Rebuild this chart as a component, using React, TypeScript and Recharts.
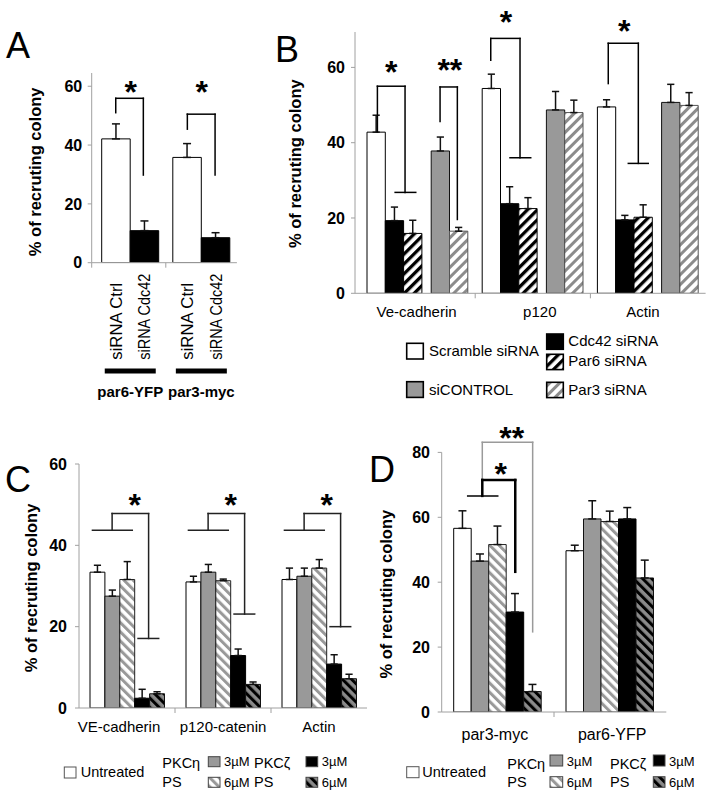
import React from 'react';
import { BarChart, Bar, XAxis, YAxis, ErrorBar, ReferenceLine, ReferenceDot, LabelList } from 'recharts';

const FONT = '"Liberation Sans", Arial, Helvetica, sans-serif';
const AXIS = '#a0a0a0';
const yLabelText = '% of recruting colony';

// ---------------- Panel A ----------------
const aCategories = ['par6-YFP', 'par3-myc'];
const aSeries = ['siRNA Ctrl', 'siRNA Cdc42'];
const aCtrl = [42.1, 35.8];
const aCtrlErr = [5.1, 4.7];
const aCdc42 = [10.9, 8.5];
const aCdc42Err = [3.3, 1.7];
const aTicks = [0, 20, 40, 60];
const aBrackets = [
  [[0.296, 51.0], [0.296, 55.9], [0.684, 55.9], [0.684, 29.8]],
  [[1.303, 45.4], [1.303, 50.5], [1.693, 50.5], [1.693, 29.8]],
];
const aStars = [
  { x: 0.507, y: 60.4, text: '*' },
  { x: 1.506, y: 60.4, text: '*' },
];

// ---------------- Panel B ----------------
const bCategories = ['Ve-cadherin', 'p120', 'Actin'];
const bSeries = ['Scramble siRNA', 'Cdc42 siRNA', 'Par6 siRNA', 'siCONTROL', 'Par3 siRNA'];
const bScramble = [42.8, 54.4, 49.5];
const bScrambleErr = [4.5, 3.8, 1.9];
const bCdc42 = [19.3, 23.8, 19.5];
const bCdc42Err = [3.6, 4.5, 1.2];
const bPar6 = [15.9, 22.5, 20.2];
const bPar6Err = [3.5, 2.9, 3.3];
const bSiControl = [37.8, 48.7, 50.7];
const bSiControlErr = [3.7, 4.9, 4.8];
const bPar3 = [16.5, 48.0, 49.9];
const bPar3Err = [1.0, 3.3, 3.4];
const bTicks = [0, 20, 40, 60];
const bBrackets = [
  [[0.151, 42.9], [0.151, 55.0], [0.391, 55.0], [0.391, 26.8]],
  [[0.305, 26.8], [0.484, 26.8]],
  [[0.695, 45.6], [0.695, 54.8], [0.845, 54.8], [0.845, 19.6]],
  [[1.135, 61.9], [1.135, 67.7], [1.389, 67.7], [1.389, 36.0]],
  [[1.302, 36.0], [1.482, 36.0]],
  [[2.155, 55.7], [2.155, 66.4], [2.416, 66.4], [2.416, 34.5]],
  [[2.329, 34.5], [2.502, 34.5]],
];
const bStars = [
  { x: 0.27, y: 60.6, text: '*' },
  { x: 0.78, y: 61.1, text: '**' },
  { x: 1.268, y: 73.9, text: '*' },
  { x: 2.294, y: 71.7, text: '*' },
];

// ---------------- Panel C ----------------
const cCategories = ['VE-cadherin', 'p120-catenin', 'Actin'];
const cUntreated = [33.4, 31.0, 31.6];
const cUntreatedErr = [1.7, 1.4, 2.8];
const cEta3 = [27.5, 33.4, 32.4];
const cEta3Err = [1.5, 1.9, 2.0];
const cEta6 = [31.6, 31.3, 34.4];
const cEta6Err = [4.4, 0.4, 2.1];
const cZeta3 = [2.4, 12.9, 10.8];
const cZeta3Err = [2.2, 1.6, 2.3];
const cZeta6 = [3.5, 5.8, 7.2];
const cZeta6Err = [0.5, 0.6, 1.1];
const cTicks = [0, 20, 40, 60];
const cBrackets = [
  [[0.14, 43.7], [0.555, 43.7]],
  [[0.345, 43.7], [0.345, 47.8], [0.725, 47.8], [0.725, 17.1]],
  [[0.615, 17.1], [0.83, 17.1]],
  [[1.14, 43.7], [1.555, 43.7]],
  [[1.345, 43.7], [1.345, 47.8], [1.725, 47.8], [1.725, 23.1]],
  [[1.615, 23.1], [1.83, 23.1]],
  [[2.14, 43.7], [2.555, 43.7]],
  [[2.345, 43.7], [2.345, 47.8], [2.725, 47.8], [2.725, 20.0]],
  [[2.615, 20.0], [2.83, 20.0]],
];
const cStars = [
  { x: 0.58, y: 51.6, text: '*' },
  { x: 1.58, y: 51.6, text: '*' },
  { x: 2.58, y: 51.6, text: '*' },
];

// ---------------- Panel D ----------------
const dCategories = ['par3-myc', 'par6-YFP'];
const dUntreated = [56.6, 49.7];
const dUntreatedErr = [5.4, 1.7];
const dEta3 = [46.5, 59.5];
const dEta3Err = [2.2, 5.6];
const dEta6 = [51.6, 58.7];
const dEta6Err = [5.7, 3.2];
const dZeta3 = [30.8, 59.5];
const dZeta3Err = [5.7, 3.5];
const dZeta6 = [6.3, 41.3];
const dZeta6Err = [2.2, 5.5];
const dTicks = [0, 20, 40, 60, 80];
const dGroupLine = [[[0.2315, 66.6], [0.499, 66.6]]];
const dBlackBracket = [[[0.3615, 66.6], [0.3615, 71.5], [0.655, 71.5], [0.655, 43.2]]];
const dGreyBracket = [[[0.3615, 71.5], [0.3615, 83.1], [0.81, 83.1], [0.81, 24.7]]];
const dStars = [
  { x: 0.525, y: 75.6, text: '*' },
  { x: 0.623, y: 86.6, text: '**' },
];

// legend texts for C / D
const cdTreatments = ['Untreated', 'PKCη', 'PKCζ'];
const cdSuffix = 'PS';
const cdDoses = ['3µM', '6µM'];

// ---------------- styles ----------------
const FILL = {
  white: { fill: '#ffffff', stroke: '#000' },
  black: { fill: '#000000', stroke: '#000' },
  grey: { fill: '#999999', stroke: '#111' },
  bwHatch: { fill: 'url(#hatchBW)', stroke: '#000' },
  greyHatch: { fill: 'url(#hatchGreyFwd)', stroke: '#555' },
  greyBack: { fill: 'url(#hatchGreyBack)', stroke: '#222' },
  darkBack: { fill: 'url(#hatchDarkBack)', stroke: '#111' },
};

type S = { key: string; name: string; values: number[]; errs: number[]; style: { fill: string; stroke: string } };

const makeRows = (cats: string[], series: S[]) =>
  cats.map((name, i) => {
    const row: any = { name };
    series.forEach((s) => {
      row[s.key] = s.values[i];
      row[s.key + 'Err'] = [0, s.errs[i]];
    });
    return row;
  });

const aSeriesList: S[] = [
  { key: 'ctrl', name: aSeries[0], values: aCtrl, errs: aCtrlErr, style: FILL.white },
  { key: 'cdc', name: aSeries[1], values: aCdc42, errs: aCdc42Err, style: FILL.black },
];
const bSeriesList: S[] = [
  { key: 'scr', name: bSeries[0], values: bScramble, errs: bScrambleErr, style: FILL.white },
  { key: 'cdc', name: bSeries[1], values: bCdc42, errs: bCdc42Err, style: FILL.black },
  { key: 'par6', name: bSeries[2], values: bPar6, errs: bPar6Err, style: FILL.bwHatch },
  { key: 'sic', name: bSeries[3], values: bSiControl, errs: bSiControlErr, style: FILL.grey },
  { key: 'par3', name: bSeries[4], values: bPar3, errs: bPar3Err, style: FILL.greyHatch },
];
const cSeriesList: S[] = [
  { key: 'un', name: 'Untreated', values: cUntreated, errs: cUntreatedErr, style: FILL.white },
  { key: 'e3', name: 'PKCη 3µM', values: cEta3, errs: cEta3Err, style: FILL.grey },
  { key: 'e6', name: 'PKCη 6µM', values: cEta6, errs: cEta6Err, style: FILL.greyBack },
  { key: 'z3', name: 'PKCζ 3µM', values: cZeta3, errs: cZeta3Err, style: FILL.black },
  { key: 'z6', name: 'PKCζ 6µM', values: cZeta6, errs: cZeta6Err, style: FILL.darkBack },
];
const dSeriesList: S[] = [
  { key: 'un', name: 'Untreated', values: dUntreated, errs: dUntreatedErr, style: FILL.white },
  { key: 'e3', name: 'PKCη 3µM', values: dEta3, errs: dEta3Err, style: FILL.grey },
  { key: 'e6', name: 'PKCη 6µM', values: dEta6, errs: dEta6Err, style: FILL.greyBack },
  { key: 'z3', name: 'PKCζ 3µM', values: dZeta3, errs: dZeta3Err, style: FILL.black },
  { key: 'z6', name: 'PKCζ 6µM', values: dZeta6, errs: dZeta6Err, style: FILL.darkBack },
];

const aData = makeRows(aCategories, aSeriesList);
const bData = makeRows(bCategories, bSeriesList);
const cData = makeRows(cCategories, cSeriesList);
const dData = makeRows(dCategories, dSeriesList);

// The hidden numeric annotation axis spans [0, n-1] over the full category range,
// so convert "category units" (0..n) into that axis.
const toAnn = (u: number, n: number) => (u * (n - 1)) / n;

// ---------------- helpers ----------------
const renderBar = (s: S, size: number, capW: number, children?: any) => (
  <Bar
    key={s.key}
    dataKey={s.key}
    name={s.name}
    barSize={size}
    fill={s.style.fill}
    stroke={s.style.stroke}
    strokeWidth={1}
    isAnimationActive={false}
  >
    <ErrorBar dataKey={s.key + 'Err'} width={capW} strokeWidth={1.5} stroke="#111" direction="y" />
    {children}
  </Bar>
);

const renderLines = (lines: number[][][], n: number, stroke: string, w: number, kp: string) =>
  lines.map((pts, i) =>
    pts.slice(1).map((pt, j) => (
      <ReferenceLine
        key={`${kp}-${i}-${j}`}
        xAxisId="ann"
        segment={[
          { x: toAnn(pts[j][0], n), y: pts[j][1] },
          { x: toAnn(pt[0], n), y: pt[1] },
        ]}
        stroke={stroke}
        strokeWidth={w}
        strokeLinecap="square"
        ifOverflow="visible"
      />
    ))
  );

const renderStars = (stars: { x: number; y: number; text: string }[], n: number, size: number, kp: string) =>
  stars.map((s, i) => (
    <ReferenceDot
      key={`${kp}-${i}`}
      xAxisId="ann"
      x={toAnn(s.x, n)}
      y={s.y}
      r={0}
      ifOverflow="visible"
      shape={(p: any) => (
        <text
          x={p.cx}
          y={p.cy}
          dy={size * 0.57}
          textAnchor="middle"
          fontSize={size}
          fontWeight="bold"
          fontFamily={FONT}
          fill="#000"
        >
          {s.text}
        </text>
      )}
    />
  ));

const yLabel = (cxOff: number, dy: number) => (p: any) => {
  const vb = p.viewBox || { x: 0, y: 0, width: 0, height: 0 };
  const cx = vb.x + cxOff;
  const cy = vb.y + vb.height / 2 + dy;
  return (
    <text
      x={cx}
      y={cy}
      transform={`rotate(-90 ${cx} ${cy})`}
      textAnchor="middle"
      dominantBaseline="central"
      fontSize={16.5}
      fontWeight="bold"
      fontFamily={FONT}
      fill="#000"
    >
      {yLabelText}
    </text>
  );
};

const catTick = (n: number, half: number, baseline: number, fontSize: number, dxs: number[] = []) => (p: any) => {
  const { x, y, payload, index } = p;
  return (
    <g>
      <text
        x={x + (dxs[index] || 0)}
        y={y + baseline}
        textAnchor="middle"
        fontSize={fontSize}
        fontFamily={FONT}
        fill="#000"
      >
        {payload.value}
      </text>
      {index < n - 1 && <line x1={x + half} x2={x + half} y1={y} y2={y + 5} stroke={AXIS} />}
    </g>
  );
};

const aTick = (half: number) => (p: any) => {
  const { x, y, payload, index } = p;
  return (
    <g>
      <line x1={x - 25.5} x2={x + 25.5} y1={y + 108.3} y2={y + 108.3} stroke="#000" strokeWidth={5} />
      <text x={x} y={y + 134.3} textAnchor="middle" fontSize={15} fontWeight="bold" fontFamily={FONT} fill="#000">
        {payload.value}
      </text>
      {index === 0 && <line x1={x - half - 3} x2={x - half - 3} y1={y} y2={y + 5} stroke={AXIS} />}
      {index < aCategories.length - 1 && <line x1={x + half} x2={x + half} y1={y} y2={y + 5} stroke={AXIS} />}
    </g>
  );
};

const rotLabel = (text: string, len: number) => (p: any) => {
  const vb = p.viewBox && p.viewBox.width !== undefined ? p.viewBox : p;
  const x = vb.x + vb.width / 2 + 6;
  const y = vb.y + vb.height + 97;
  return (
    <text
      x={x}
      y={y}
      transform={`rotate(-90 ${x} ${y})`}
      fontSize={17}
      fontFamily={FONT}
      fill="#000"
      textLength={len}
      lengthAdjust="spacingAndGlyphs"
    >
      {text}
    </text>
  );
};
const aLabelLengths = [77, 86];

const yTickStyle = { fontSize: 16, fontWeight: 700, fill: '#000', fontFamily: FONT };

// ---------------- Legends (overlay) ----------------
const bLegendLayout = [
  { box: [406.7, 343.3, 16.6, 15.7], text: [429, 356] },
  { box: [546.7, 334, 16.6, 15.3], text: [568.3, 346] },
  { box: [546.7, 354.3, 16.6, 15.3], text: [568.3, 366] },
  { box: [406.7, 381.7, 16.6, 15.7], text: [429, 395] },
  { box: [546.7, 382.3, 16.6, 15.3], text: [568.3, 395] },
];

const cdLegend = (L: any, series: S[]) => (
  <g fontFamily={FONT} fill="#000">
    <rect x={L.un[0]} y={L.un[1]} width={L.un[2]} height={L.un[3]} fill={series[0].style.fill} stroke="#555" />
    <text x={L.unT[0]} y={L.unT[1]} fontSize={14.5}>{cdTreatments[0]}</text>
    <text x={L.eta[0]} y={L.eta[1]} fontSize={14.5}>{cdTreatments[1]}</text>
    <text x={L.eta[0]} y={L.ps} fontSize={14.5}>{cdSuffix}</text>
    <text x={L.zeta[0]} y={L.zeta[1]} fontSize={14.5}>{cdTreatments[2]}</text>
    <text x={L.zeta[0]} y={L.ps} fontSize={14.5}>{cdSuffix}</text>
    {[1, 2, 3, 4].map((k) => {
      const b = L.boxes[k - 1];
      return (
        <g key={k}>
          <rect x={b[0]} y={b[1]} width={b[2]} height={b[3]} fill={series[k].style.fill} stroke="#444" />
          <text x={b[4]} y={b[5]} fontSize={13}>{cdDoses[(k - 1) % 2]}</text>
        </g>
      );
    })}
  </g>
);

const cLegendLayout = {
  un: [64.3, 767, 11.7, 11],
  unT: [80.7, 777.3],
  eta: [162.3, 768.3],
  zeta: [254, 768.3],
  ps: 786.7,
  boxes: [
    [208.3, 756.7, 11.7, 10, 224, 766],
    [208.3, 777.3, 11.7, 10, 224, 786.7],
    [306, 756.7, 11.7, 10, 321.7, 766],
    [306, 777.3, 11.7, 10, 321.7, 786.7],
  ],
};
const dLegendLayout = {
  un: [406.7, 766.7, 12.3, 11],
  unT: [422.3, 777.3],
  eta: [507.3, 769],
  zeta: [610, 769],
  ps: 786.7,
  boxes: [
    [550, 755, 12.7, 11, 566.7, 766],
    [550, 776.7, 12.7, 10.6, 566.7, 786.7],
    [653.3, 755, 11.7, 11, 669, 766],
    [653.3, 776.7, 11.7, 10.6, 669, 786.7],
  ],
};

const abs = (left: number, top: number): React.CSSProperties => ({ position: 'absolute', left, top });

export default function App() {
  const A = { w: 245, h: 410, top: 73, right: 8.1, yw: 91.7, xh: 147.3, pad: 3 };
  const aHalf = (A.w - A.right - A.yw - A.pad) / aCategories.length / 2;
  const B = { w: 467, h: 410, top: 32, right: 1.4, yw: 115, xh: 116.7, pad: 5 };
  const bHalf = (B.w - B.right - B.yw - B.pad) / bCategories.length / 2;
  const C = { w: 375, h: 355, top: 24, right: 8, yw: 79, xh: 87 };
  const cHalf = (C.w - C.right - C.yw) / cCategories.length / 2;
  const D = { w: 337, h: 395, top: 52.4, right: 40.7, yw: 71.7, xh: 83 };
  const dHalf = (D.w - D.right - D.yw) / dCategories.length / 2;
  const nA = aCategories.length;
  const nB = bCategories.length;
  const nC = cCategories.length;
  const nD = dCategories.length;

  return (
    <div style={{ position: 'absolute', left: 0, top: 0, width: 707, height: 795, background: '#fff', fontFamily: FONT }}>
      {/* Panel A */}
      <div style={abs(0, 0)}>
        <BarChart width={A.w} height={A.h} data={aData} margin={{ top: A.top, right: A.right, bottom: 0, left: 0 }} barGap={0}>
          <XAxis
            dataKey="name"
            height={A.xh}
            padding={{ left: A.pad, right: 0 }}
            axisLine={{ stroke: AXIS }}
            tickLine={false}
            tickSize={0}
            tickMargin={0}
            interval={0}
            tick={aTick(aHalf)}
          />
          <XAxis xAxisId="ann" type="number" domain={[0, nA - 1]} allowDataOverflow hide padding={{ left: A.pad, right: 0 }} />
          <YAxis
            domain={[0, 64.5]}
            ticks={aTicks}
            allowDataOverflow
            width={A.yw}
            axisLine={{ stroke: AXIS }}
            tickLine={{ stroke: AXIS }}
            tickSize={4}
            tickMargin={5.5}
            tick={yTickStyle}
            label={yLabel(35, 4)}
          />
          {aSeriesList.map((s, i) =>
            renderBar(s, 28.5, 4, <LabelList dataKey={s.key} content={rotLabel(s.name, aLabelLengths[i])} />)
          )}
          {renderLines(aBrackets, nA, '#000', 1.5, 'ab')}
          {renderStars(aStars, nA, 32, 'as')}
        </BarChart>
      </div>

      {/* Panel B */}
      <div style={abs(240, 0)}>
        <BarChart width={B.w} height={B.h} data={bData} margin={{ top: B.top, right: B.right, bottom: 0, left: 0 }} barGap={0}>
          <XAxis
            dataKey="name"
            height={B.xh}
            padding={{ left: B.pad, right: 0 }}
            axisLine={{ stroke: AXIS }}
            tickLine={false}
            tickSize={0}
            tickMargin={0}
            interval={0}
            tick={catTick(nB, bHalf, 23.2, 15, [-1, 7, -5])}
          />
          <XAxis xAxisId="ann" type="number" domain={[0, nB - 1]} allowDataOverflow hide padding={{ left: B.pad, right: 0 }} />
          <YAxis
            domain={[0, 69.4]}
            ticks={bTicks}
            allowDataOverflow
            width={B.yw}
            axisLine={{ stroke: AXIS }}
            tickLine={{ stroke: AXIS }}
            tickSize={4}
            tickMargin={6}
            tick={yTickStyle}
            label={yLabel(55, 1)}
          />
          {renderBar(bSeriesList[0], 18.3, 3.6)}
          {renderBar(bSeriesList[1], 18.3, 3.6)}
          {renderBar(bSeriesList[2], 18.3, 3.6)}
          <Bar key="gap" dataKey="gap" barSize={9.3} fill="none" stroke="none" legendType="none" isAnimationActive={false} />
          {renderBar(bSeriesList[3], 18.3, 3.6)}
          {renderBar(bSeriesList[4], 18.3, 3.6)}
          {renderLines(bBrackets, nB, '#000', 1.5, 'bb')}
          {renderStars(bStars, nB, 32, 'bs')}
        </BarChart>
      </div>

      {/* Panel C */}
      <div style={abs(0, 440)}>
        <BarChart width={C.w} height={C.h} data={cData} margin={{ top: C.top, right: C.right, bottom: 0, left: 0 }} barGap={0}>
          <XAxis
            dataKey="name"
            height={C.xh}
            axisLine={{ stroke: AXIS }}
            tickLine={false}
            tickSize={0}
            tickMargin={0}
            interval={0}
            tick={catTick(nC, cHalf, 23.7, 15, [-8, 0, 0])}
          />
          <XAxis xAxisId="ann" type="number" domain={[0, nC - 1]} allowDataOverflow hide />
          <YAxis
            domain={[0, 60]}
            ticks={cTicks}
            allowDataOverflow
            width={C.yw}
            axisLine={{ stroke: AXIS }}
            tickLine={{ stroke: AXIS }}
            tickSize={4}
            tickMargin={8}
            tick={yTickStyle}
            label={yLabel(31, 2)}
          />
          {cSeriesList.map((s) => renderBar(s, 14.9, 3.6))}
          {renderLines(cBrackets, nC, '#222', 1.5, 'cb')}
          {renderStars(cStars, nC, 32, 'cs')}
        </BarChart>
      </div>

      {/* Panel D */}
      <div style={abs(370, 400)}>
        <BarChart width={D.w} height={D.h} data={dData} margin={{ top: D.top, right: D.right, bottom: 0, left: 0 }} barGap={0}>
          <XAxis
            dataKey="name"
            height={D.xh}
            axisLine={{ stroke: AXIS }}
            tickLine={false}
            tickSize={0}
            tickMargin={0}
            interval={0}
            tick={catTick(nD, dHalf, 28, 16, [-3, 2])}
          />
          <XAxis xAxisId="ann" type="number" domain={[0, nD - 1]} allowDataOverflow hide />
          <YAxis
            domain={[0, 80]}
            ticks={dTicks}
            allowDataOverflow
            width={D.yw}
            axisLine={{ stroke: AXIS }}
            tickLine={{ stroke: AXIS }}
            tickSize={4}
            tickMargin={7.7}
            tick={yTickStyle}
            label={yLabel(16, 12)}
          />
          {dSeriesList.map((s) => renderBar(s, 17.5, 4))}
          {renderLines(dGreyBracket, nD, '#9a9a9a', 1.5, 'dg')}
          {renderLines(dGroupLine, nD, '#000', 1.5, 'dl')}
          {renderLines(dBlackBracket, nD, '#000', 2.5, 'db')}
          {renderStars(dStars, nD, 32, 'ds')}
        </BarChart>
      </div>

      {/* Overlay: patterns, panel letters, legends */}
      <svg width={707} height={795} style={{ position: 'absolute', left: 0, top: 0, pointerEvents: 'none' }}>
        <defs>
          <pattern id="hatchBW" patternUnits="userSpaceOnUse" width="7" height="7" patternTransform="rotate(45)">
            <rect width="7" height="7" fill="#fff" />
            <rect width="3.3" height="7" fill="#000" />
          </pattern>
          <pattern id="hatchGreyFwd" patternUnits="userSpaceOnUse" width="7" height="7" patternTransform="rotate(45)">
            <rect width="7" height="7" fill="#fff" />
            <rect width="3" height="7" fill="#8c8c8c" />
          </pattern>
          <pattern id="hatchGreyBack" patternUnits="userSpaceOnUse" width="6.5" height="6.5" patternTransform="rotate(-45)">
            <rect width="6.5" height="6.5" fill="#fff" />
            <rect width="3" height="6.5" fill="#999" />
          </pattern>
          <pattern id="hatchDarkBack" patternUnits="userSpaceOnUse" width="6.5" height="6.5" patternTransform="rotate(-45)">
            <rect width="6.5" height="6.5" fill="#8a8a8a" />
            <rect width="3" height="6.5" fill="#000" />
          </pattern>
        </defs>
        <g fontFamily={FONT} fontSize={36} fill="#000">
          <text x={6} y={58}>A</text>
          <text x={275} y={62}>B</text>
          <text x={5} y={492}>C</text>
          <text x={369} y={482}>D</text>
        </g>
        <g fontFamily={FONT} fill="#000">
          {bSeriesList.map((s, i) => {
            const L = bLegendLayout[i];
            return (
              <g key={s.key}>
                <rect x={L.box[0]} y={L.box[1]} width={L.box[2]} height={L.box[3]} fill={s.style.fill} stroke="#000" strokeWidth={1.6} />
                <text x={L.text[0]} y={L.text[1]} fontSize={15}>{s.name}</text>
              </g>
            );
          })}
        </g>
        {cdLegend(cLegendLayout, cSeriesList)}
        {cdLegend(dLegendLayout, dSeriesList)}
      </svg>
    </div>
  );
}
